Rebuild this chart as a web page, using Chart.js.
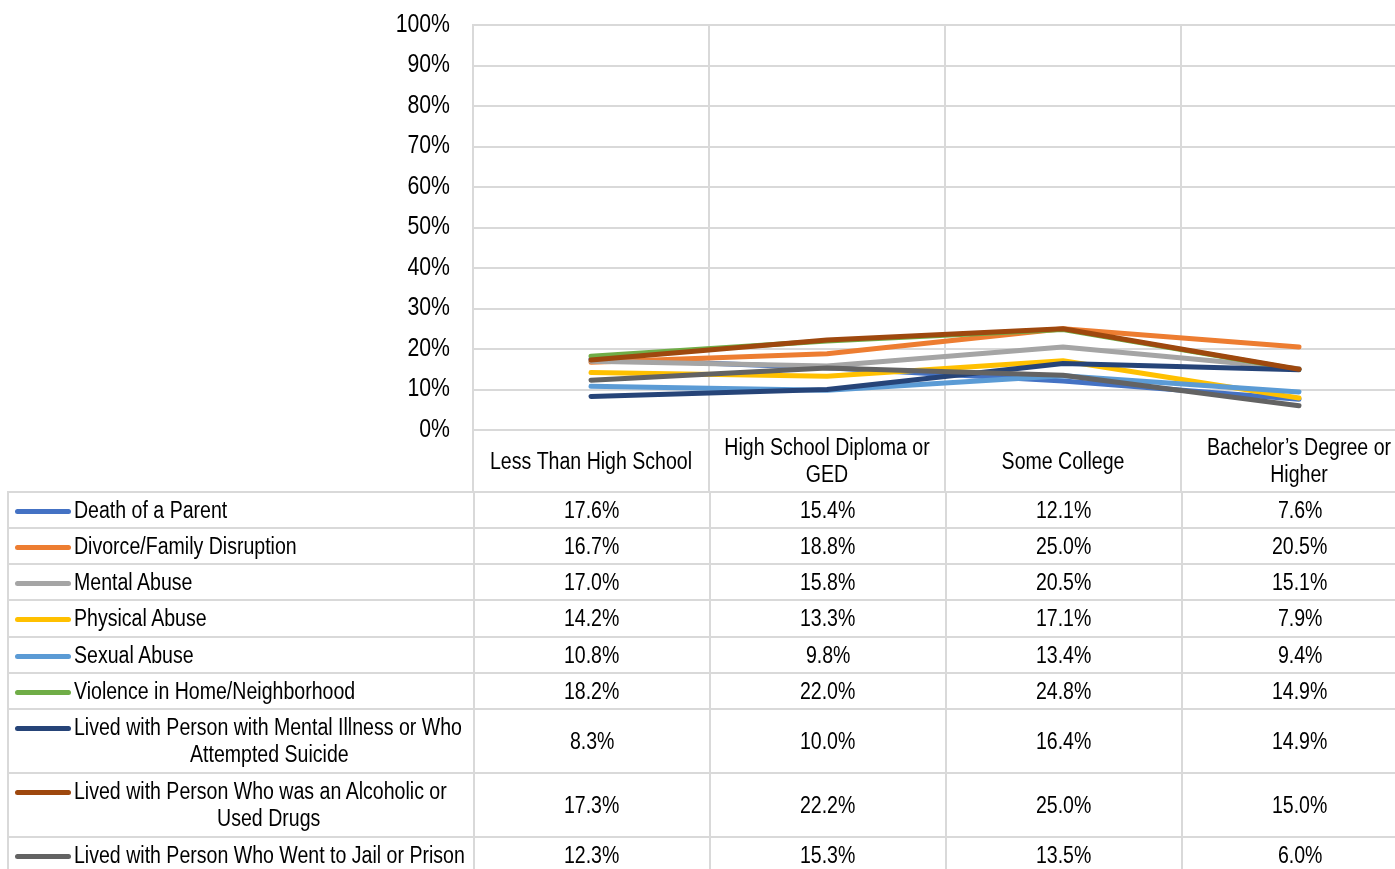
<!DOCTYPE html>
<html>
<head>
<meta charset="utf-8">
<title>ACEs by education</title>
<script src="https://cdn.jsdelivr.net/npm/chart.js@4.4.1/dist/chart.umd.min.js"></script>
<style>
  html, body { margin:0; padding:0; background:#fff; overflow:hidden; width:1395px; height:869px; }
  body { font-family:'Liberation Sans',Arial,sans-serif; font-size:23px; color:#000; }
  #wrap { position:relative; width:1417px; height:869px; }
  #chart { position:absolute; left:0; top:0; }
  table { position:absolute; left:7px; top:491px; border-collapse:collapse; table-layout:fixed; width:1412px; }
  td { border:2px solid #d9d9d9; padding:0; text-align:center; vertical-align:middle; line-height:27px; white-space:nowrap; }
  td.lab { position:relative; vertical-align:top; text-align:left; }
  .key { position:absolute; left:6px; top:16px; width:56px; height:5px; border-radius:3px; }
  .txt { padding:4px 0 0 65px; }
  .txt .more { text-align:center; width:390px; }
  .n { display:inline-block; transform:scaleX(0.85); transform-origin:center; }
  .txt .first .n { transform-origin:left; }
</style>
</head>
<body>
<div id="wrap">
  <canvas id="chart" width="1417" height="492"></canvas>
  <table id="tbl"></table>
</div>
<script>
const categories = [['Less Than High School'], ['High School Diploma or', 'GED'], ['Some College'], ['Bachelor\u2019s Degree or', 'Higher']];
const yTicks = [0, 10, 20, 30, 40, 50, 60, 70, 80, 90, 100];

const seriesNames = [
  ['Death of a Parent'],
  ['Divorce/Family Disruption'],
  ['Mental Abuse'],
  ['Physical Abuse'],
  ['Sexual Abuse'],
  ['Violence in Home/Neighborhood'],
  ['Lived with Person with Mental Illness or Who', 'Attempted Suicide'],
  ['Lived with Person Who was an Alcoholic or', 'Used Drugs'],
  ['Lived with Person Who Went to Jail or Prison']
];
const deathOfParent = [17.6, 15.4, 12.1, 7.6];
const divorce = [16.7, 18.8, 25.0, 20.5];
const mentalAbuse = [17.0, 15.8, 20.5, 15.1];
const physicalAbuse = [14.2, 13.3, 17.1, 7.9];
const sexualAbuse = [10.8, 9.8, 13.4, 9.4];
const violence = [18.2, 22.0, 24.8, 14.9];
const mentalIllness = [8.3, 10.0, 16.4, 14.9];
const alcoholic = [17.3, 22.2, 25.0, 15.0];
const jail = [12.3, 15.3, 13.5, 6.0];
const seriesValues = [deathOfParent, divorce, mentalAbuse, physicalAbuse, sexualAbuse, violence, mentalIllness, alcoholic, jail];
const colors = ['#4472c4', '#ed7d31', '#a5a5a5', '#ffc000', '#5b9bd5', '#70ad47', '#264478', '#9e480e', '#636363'];

const FONT = "'Liberation Sans',Arial,sans-serif";
const GRID = '#d9d9d9';
const NARROW = 0.85;

// no Arial Narrow here, so squeeze canvas text around its anchor point
const narrowText = {
  id: 'narrowText',
  beforeDraw(chart) {
    const ctx = chart.ctx;
    if (ctx._narrow) return;
    const orig = ctx.fillText;
    ctx.fillText = function (t, x, y) {
      this.save();
      this.translate(x, y);
      this.scale(NARROW, 1);
      orig.call(this, t, 0, 0);
      this.restore();
    };
    ctx._narrow = true;
  }
};

// eslint-disable-next-line no-undef
new Chart(document.getElementById('chart'), {
  type: 'line',
  data: {
    labels: categories,
    datasets: seriesValues.map((vals, i) => ({
      label: seriesNames[i].join(' '),
      data: vals,
      borderColor: colors[i],
      backgroundColor: colors[i],
      borderWidth: 5,
      borderCapStyle: 'round',
      borderJoinStyle: 'round',
      pointRadius: 0,
      tension: 0,
      fill: false,
      order: seriesValues.length - i
    }))
  },
  plugins: [narrowText],
  options: {
    responsive: false,
    animation: false,
    devicePixelRatio: 1,
    layout: { padding: { top: 25, right: 0, bottom: 0, left: 0 } },
    plugins: { legend: { display: false }, tooltip: { enabled: false } },
    scales: {
      x: {
        offset: true,
        grid: { offset: true, color: GRID, lineWidth: 2, drawTicks: true, tickLength: 62, tickColor: GRID },
        border: { color: GRID, width: 2 },
        ticks: {
          color: '#000', font: { family: FONT, size: 23, lineHeight: '27px' },
          padding: -43, maxRotation: 0, autoSkip: false, crossAlign: 'center'
        },
        afterFit: (s) => { s.height = 62; }
      },
      y: {
        min: 0, max: 100,
        afterBuildTicks: (s) => { s.ticks = yTicks.map(v => ({ value: v })); },
        // invisible tick marks give the label gap without adding top padding
        grid: { color: GRID, lineWidth: 2, drawTicks: true, tickLength: 23, tickColor: 'rgba(0,0,0,0)' },
        border: { color: GRID, width: 2 },
        ticks: { color: '#000', font: { family: FONT, size: 25 }, padding: 0, callback: v => v + '%' },
        afterFit: (s) => { s.width = 473; }
      }
    }
  }
});

const tbl = document.getElementById('tbl');
const colW = [466, 236, 236, 236, 236];
const rowH = [36, 36, 36, 37, 36, 36, 64, 64, 36];
tbl.innerHTML = '<colgroup>' + colW.map(w => `<col style="width:${w}px">`).join('') + '</colgroup>' +
  seriesNames.map((name, i) => {
    const lines = `<div class="first"><span class="n">${name[0]}</span></div>` +
      name.slice(1).map(l => `<div class="more"><span class="n">${l}</span></div>`).join('');
    return `<tr style="height:${rowH[i]}px"><td class="lab"><span class="key" style="background:${colors[i]}"></span><div class="txt">${lines}</div></td>` +
      seriesValues[i].map(v => `<td><span class="n">${v.toFixed(1)}%</span></td>`).join('') + '</tr>';
  }).join('');
</script>
</body>
</html>
